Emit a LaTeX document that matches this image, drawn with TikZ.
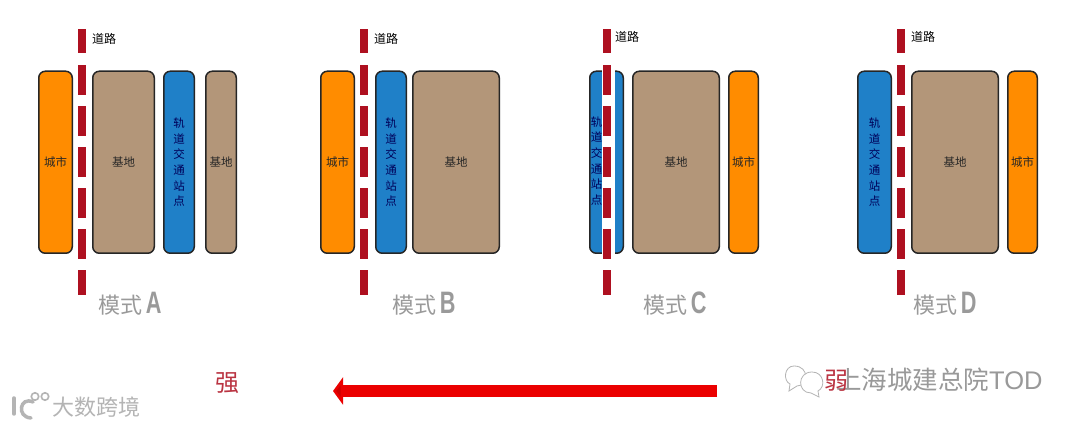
\documentclass[tikz,border=0pt]{standalone}
\usepackage{fontspec}
\setmainfont{Noto Sans CJK SC}
\newfontfamily\latinb{Liberation Sans}[BoldFont={Liberation Sans Bold}]
\usetikzlibrary{arrows.meta}
\definecolor{cityc}{HTML}{FF8C00}
\definecolor{basec}{HTML}{B39679}
\definecolor{railc}{HTML}{1F80C8}
\definecolor{roadc}{HTML}{AE1020}
\definecolor{modec}{HTML}{9A9A9A}
\definecolor{wmc}{HTML}{B4B4B4}
\tikzset{
  blockbox/.style={draw=black!85,line width=1.5pt,rounded corners=6.5pt,inner sep=0pt,text=black!85,font=\fontsize{11.5}{12}\selectfont},
  city/.style={blockbox,fill=cityc},
  base/.style={blockbox,fill=basec},
  rail/.style={blockbox,fill=railc,align=center,text=blue!35!black},
  roaddash/.style={fill=roadc,draw=none,minimum width=8pt,inner sep=0pt},
  roadlabel/.style={font=\fontsize{12}{12}\selectfont,text=black,inner sep=0pt},
  modelabel/.style={font=\fontsize{22}{22}\selectfont,text=modec,inner sep=0pt},
  weak/.style={font=\fontsize{24}{24}\selectfont,text=roadc!85!white,inner sep=0pt},
  wechatbubble/.style={draw=wmc,line width=0.8pt,fill=white}
}
\newcommand{\blockat}[5]{% name, style, x1, x2, text
  \node[#2,minimum width=#4pt-#3pt-1.5pt,minimum height=182pt,anchor=north west] (#1) at (#3,70.5) {#5};}
\newcommand{\roadat}[2]{% prefix, x
  \foreach \yy/\hh [count=\i] in {29/24,65/30,106/30,147/30,188/30,229/30,270/25}{
    \node[roaddash,minimum height=\hh pt,anchor=north] (#1d\i) at (#2,\yy) {};}}
\def\railtext{轨\\[3.6pt]道\\[3.6pt]交\\[3.6pt]通\\[3.6pt]站\\[3.6pt]点}
\newcommand{\modetext}[1]{模式\,{\latinb\bfseries\fontsize{31}{31}\selectfont\scalebox{0.7}[1]{#1}}}
\begin{document}
\begin{tikzpicture}[x=1pt,y=-1pt]
\useasboundingbox (0,0) rectangle (1080,427);
\fill[white] (0,0) rectangle (1080,427);
% Mode A
\blockat{acity}{city}{38}{73}{城市}
\blockat{abase}{base}{92}{155}{基地}
\blockat{arail}{rail}{163}{195}{\railtext}
\blockat{abasetwo}{base}{205}{237}{基地}
\roadat{a}{82}
\node[roadlabel,anchor=west] (aroad) at (92,39) {道路};
\node[modelabel,anchor=west] (amode) at (98,304) {\modetext{A}};
% Mode B
\blockat{bcity}{city}{320}{355}{城市}
\blockat{brail}{rail}{375}{407}{\railtext}
\blockat{bbase}{base}{412}{500}{基地}
\roadat{b}{364}
\node[roadlabel,anchor=west] (broad) at (374,39) {道路};
\node[modelabel,anchor=west] (bmode) at (392,304) {\modetext{B}};
% Mode C
\blockat{crail}{rail}{589}{624}{}
\fill[white] (602,69) rectangle (615,254);
\node[font=\fontsize{11.5}{12}\selectfont,text=blue!35!black,align=center,inner sep=0pt] (crailt) at (596.5,161) {\railtext};
\blockat{cbase}{base}{632}{720}{基地}
\blockat{ccity}{city}{728}{759}{城市}
\roadat{c}{607}
\node[roadlabel,anchor=west] (croad) at (615,37) {道路};
\node[modelabel,anchor=west] (cmode) at (643,304) {\modetext{C}};
% Mode D
\blockat{drail}{rail}{857}{892}{\railtext}
\blockat{dbase}{base}{911}{999}{基地}
\blockat{dcity}{city}{1007}{1038}{城市}
\roadat{d}{901}
\node[roadlabel,anchor=west] (droad) at (911,37) {道路};
\node[modelabel,anchor=west] (dmode) at (913,304) {\modetext{D}};
% Arrow
\coordinate (arrowstart) at (717,391);
\coordinate (arrowend) at (333,391);
\draw[line width=11.5pt,draw=red!92!black,-{Triangle[length=10pt,width=27pt,fill=red!80!black]}] (arrowstart) -- (arrowend);
\node[weak] (strong) at (227,383) {强};
% WeChat logo
\draw[wechatbubble] (794,366) .. controls (784,366) and (783,381) .. (790,384) -- (789,391) -- (797,386) .. controls (808,386) and (810,366) .. (794,366) -- cycle;
\draw[wechatbubble] (812,372) .. controls (797,372) and (797,393) .. (811,393) -- (819,397) -- (818,391) .. controls (826,387) and (824,372) .. (812,372) -- cycle;
\node[font=\fontsize{25.5}{25.5}\selectfont,text=wmc!85!black,inner sep=0pt,anchor=west] (wmshanghai) at (836,380) {上海城建总院{\latinb TOD}};
\node[weak] (weaklabel) at (836,381) {弱};
% lower-left watermark
\draw[wmc,line width=3.5pt,line cap=round] (14,398) -- (14,414);
\draw[wmc,line width=3.5pt,line cap=round] (33,402) .. controls (20,396) and (16,417) .. (31,418);
\draw[wmc,line width=1.6pt] (35,396.5) circle (3.7);
\draw[wmc,line width=1.6pt] (45,396.5) circle (3.7);
\node[font=\fontsize{22}{22}\selectfont,text=wmc,inner sep=0pt,anchor=west] (wmbrand) at (52,407) {大数跨境};
\end{tikzpicture}
\end{document}
